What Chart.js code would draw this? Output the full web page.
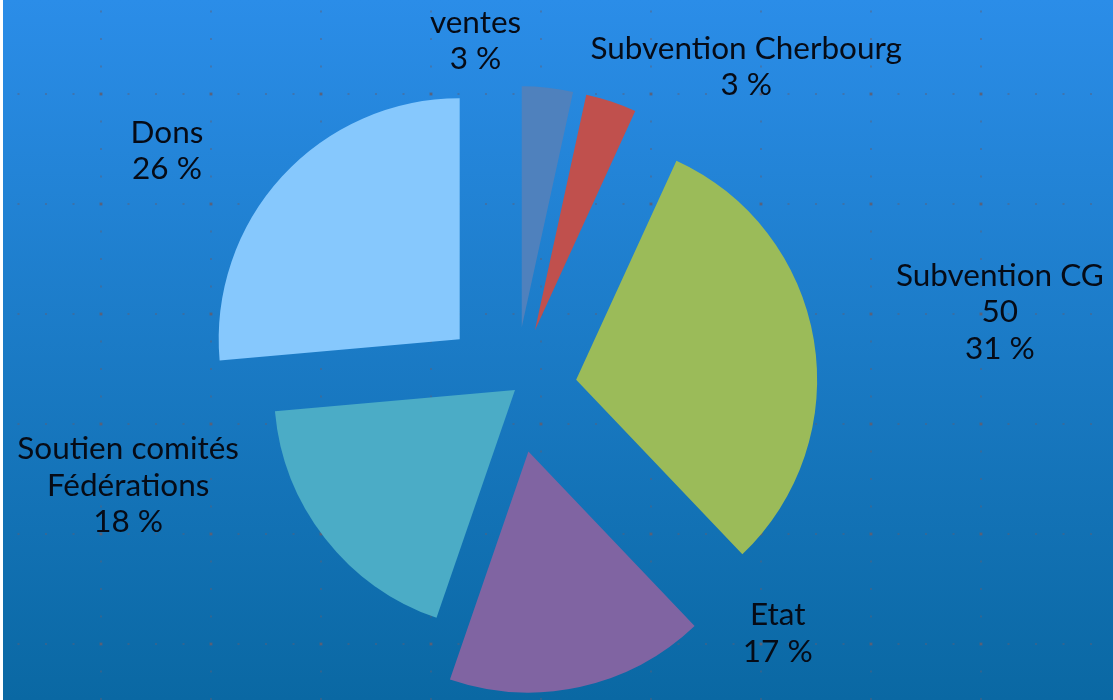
<!DOCTYPE html>
<html lang="fr">
<head>
<meta charset="utf-8">
<title>Ressources</title>
<script src="https://cdn.jsdelivr.net/npm/chart.js@4.4.1/dist/chart.umd.min.js"></script>
<style>
    html, body { margin: 0; padding: 0; background: #ffffff; }
    canvas { display: block; }
</style>
</head>
<body>
<canvas id="myChart" width="1113" height="700"></canvas>
<script>
// data
const categories = ['ventes', 'Subvention Cherbourg', 'Subvention CG', 'Etat', ['Soutien comités', 'Fédérations'], 'Dons'];
const values = [5.5, 5.5, 50, 28, 29.5, 42.5];
const sliceColors = ['#4f81bd', '#c0504d', '#9bbb59', '#8064a2', '#4bacc6', '#86c8fd'];
const showValueFor = ['Subvention CG'];

// layout of the exploded slices and the labels
const explode = [63, 63, 62, 63, 0, 75];
const labelNudge = [[-72, -47], [135, -35], [186, -28], [198, -54], [-197, -53], [-115, -26]];

const fontFamily = 'Lato, "Open Sans", sans-serif';
const fontSize = 31.5;
const lineHeight = 36.5;

function drawBackground(chart) {
    const ctx = chart.ctx;
    const w = chart.width;
    const h = chart.height;
    ctx.save();
    ctx.fillStyle = '#ffffff';
    ctx.fillRect(0, 0, w, h);
    const grad = ctx.createLinearGradient(0, 0, 0, h);
    grad.addColorStop(0, '#2b8de8');
    grad.addColorStop(1, '#0a68a3');
    ctx.fillStyle = grad;
    ctx.fillRect(3, 0, w - 3, h);

    // dotted grid behind the pie
    ctx.fillStyle = 'rgba(95, 95, 115, 0.45)';
    const step = 110;
    const dot = 27.5;
    for (let x = 981; x > 0; x -= step) {
        for (let y = 94 - 4 * dot; y < h; y += dot) {
            ctx.fillRect(x - 1, y - 1, 2, 2);
        }
    }
    for (let y = 94; y < h; y += step) {
        for (let x = 18.5; x < w; x += dot) {
            ctx.fillRect(x - 1, y - 1, 2, 2);
        }
    }
    ctx.fillStyle = 'rgba(95, 95, 115, 0.7)';
    for (let x = 981; x > 0; x -= step) {
        for (let y = 94; y < h; y += step) {
            ctx.fillRect(x - 1.5, y - 1.5, 3, 3);
        }
    }
    ctx.restore();
}

function drawLabels(chart) {
    const ctx = chart.ctx;
    const meta = chart.getDatasetMeta(0);
    const total = values.reduce((a, b) => a + b, 0);
    ctx.save();
    ctx.font = fontSize + 'px ' + fontFamily;
    ctx.fillStyle = '#060b16';
    ctx.textAlign = 'center';
    ctx.textBaseline = 'alphabetic';
    meta.data.forEach((arc, i) => {
        const mid = (arc.startAngle + arc.endAngle) / 2;
        const r = arc.outerRadius;
        // anchor on the outer edge of the (moved) slice, then shifted
        const cx = arc.x + Math.cos(mid) * (r + explode[i]) + labelNudge[i][0];
        const cy = arc.y + Math.sin(mid) * (r + explode[i]) + labelNudge[i][1];

        let lines = Array.isArray(categories[i]) ? categories[i].slice() : [categories[i]];
        if (showValueFor.includes(lines.join(' '))) {
            lines.push(String(values[i]));
        }
        lines.push(Math.round(values[i] / total * 100) + ' %');

        const capH = 21;
        let y = cy - (lines.length - 1) * lineHeight / 2 + capH / 2;
        lines.forEach(line => {
            ctx.fillText(line, cx, y);
            y += lineHeight;
        });
    });
    ctx.restore();
}

const explodedPie = {
    id: 'explodedPie',
    beforeDraw(chart) {
        drawBackground(chart);
    },
    beforeDatasetsDraw(chart) {
        const ctx = chart.ctx;
        const meta = chart.getDatasetMeta(0);
        meta.data.forEach((arc, i) => {
            const mid = (arc.startAngle + arc.endAngle) / 2;
            ctx.save();
            ctx.translate(Math.cos(mid) * explode[i], Math.sin(mid) * explode[i]);
            arc.draw(ctx);
            ctx.restore();
        });
        return false;
    },
    afterDraw(chart) {
        drawLabels(chart);
    }
};

const ctx = document.getElementById('myChart').getContext('2d');

const myChart = new Chart(ctx, {
    type: 'pie',
    data: {
        labels: categories,
        datasets: [{
            data: values,
            backgroundColor: sliceColors,
            borderWidth: 0
        }]
    },
    options: {
        responsive: false,
        animation: false,
        events: [],
        radius: 241,
        layout: {
            padding: { left: 0, right: 83, top: 80, bottom: 0 }
        },
        plugins: {
            legend: { display: false },
            tooltip: { enabled: false }
        }
    },
    plugins: [explodedPie]
});
</script>
</body>
</html>
